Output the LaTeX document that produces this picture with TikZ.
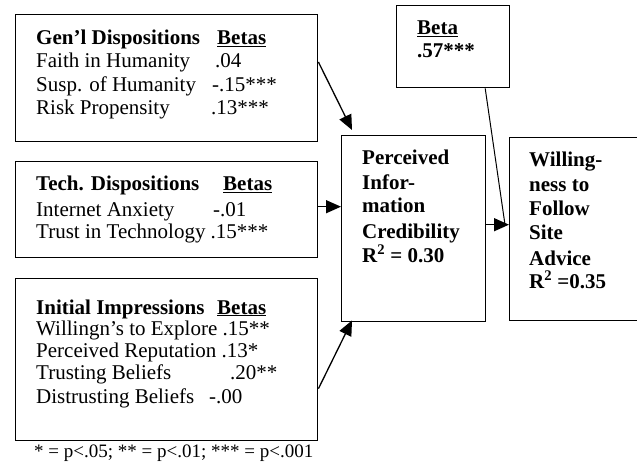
\documentclass[tikz,border=0pt]{standalone}
\usepackage{fontspec}
\setmainfont{Liberation Serif}
\usepackage{tikz}
\usetikzlibrary{arrows.meta}
\newcommand{\bodysize}{\fontsize{21}{24}\selectfont}
\newcommand{\notesize}{\fontsize{19}{22}\selectfont}
\tikzset{
  panel/.style={draw=black,line width=1.4pt,rectangle,anchor=north west,inner sep=0pt},
  rowtext/.style={anchor=base west,inner sep=0pt,font=\bodysize},
  headtext/.style={rowtext,font=\bodysize\bfseries},
  linkarrow/.style={-{Triangle[length=15pt,width=13pt]},line width=1.3pt,draw=black},
  betaline/.style={line width=1pt,draw=black}
}

\begin{document}
\begin{tikzpicture}[x=1pt,y=-1pt]
\useasboundingbox (0,0) rectangle (637,465);
\clip (0,0) rectangle (637,465);
% boxes
\node[panel,minimum width=302pt,minimum height=127pt] (genl) at (15,14) {};
\node[panel,minimum width=302pt,minimum height=96pt] (tech) at (15,161) {};
\node[panel,minimum width=302pt,minimum height=162pt] (init) at (15,278) {};
\node[panel,minimum width=144pt,minimum height=186pt] (cred) at (341,135) {};
\node[panel,minimum width=160pt,minimum height=183pt] (will) at (509,137) {};
\node[panel,minimum width=113pt,minimum height=82pt] (beta) at (396,5) {};
% general dispositions
\node[headtext] (genlhead) at (36,45) {Gen'l Dispositions};
\node[headtext] (genlbeta) at (217,45) {\underline{Betas}};
\foreach \yy/\lab/\xx/\val [count=\i] in {68/Faith in Humanity/215/.04,
    92/Susp. of Humanity/212/-.15***, 115/Risk Propensity/211/.13***}{
  \node[rowtext] (genllab\i) at (36,\yy) {\lab};
  \node[rowtext] (genlval\i) at (\xx,\yy) {\val};
}
% technology dispositions
\node[headtext] (techhead) at (36,191) {Tech. Dispositions};
\node[headtext] (techbeta) at (223,191) {\underline{Betas}};
\node[rowtext] (techlab1) at (36,216) {Internet Anxiety};
\node[rowtext] (techval1) at (213,216) {-.01};
\node[rowtext] (techlab2) at (36,239) {Trust in Technology .15***};
% initial impressions
\node[headtext] (inithead) at (36,314) {Initial Impressions};
\node[headtext] (initbeta) at (217,314) {\underline{Betas}};
\node[rowtext] (initlab1) at (36,335) {Willingn's to Explore .15**};
\node[rowtext] (initlab2) at (36,357) {Perceived Reputation .13*};
\foreach \yy/\lab/\xx/\val [count=\i from 3] in {379/Trusting Beliefs/230/.20**,
    403/Distrusting Beliefs/209/-.00}{
  \node[rowtext] (initlab\i) at (36,\yy) {\lab};
  \node[rowtext] (initval\i) at (\xx,\yy) {\val};
}
% outcome boxes
\foreach \yy/\lab [count=\i] in {165/Perceived, 190/Infor-, 213/mation,
    238/Credibility, 262/{R\textsuperscript{2} = 0.30}}{
  \node[headtext] (credtxt\i) at (362,\yy) {\lab};
}
\foreach \yy/\lab [count=\i] in {167/Willing-, 192/ness to, 215/Follow,
    240/Site, 265/Advice, 288/{R\textsuperscript{2} =0.35}}{
  \node[headtext] (willtxt\i) at (529,\yy) {\lab};
}
\node[headtext] (betahead) at (417,35) {\underline{Beta}};
\node[headtext] (betaval) at (417,58) {.57***};
% footnote
\node[rowtext,font=\notesize] (note) at (34,457) {* = p<.05; ** = p<.01; *** = p<.001};
% connectors
\draw[linkarrow] ([yshift=-48pt]genl.north east) -- ([xshift=11pt,yshift=5pt]cred.north west);
\draw[linkarrow] ([yshift=3pt]tech.east) -- ([yshift=3pt]tech.east -| cred.west);
\draw[linkarrow] ([yshift=-29pt]init.east) -- ([xshift=11pt,yshift=2pt]cred.south west);
\draw[linkarrow] ([yshift=4pt]cred.east) -- ([yshift=4pt]cred.east -| will.west);
\draw[betaline] ([xshift=32pt]beta.south) -- ([xshift=-4pt,yshift=4.5pt]will.west);
\end{tikzpicture}
\end{document}
